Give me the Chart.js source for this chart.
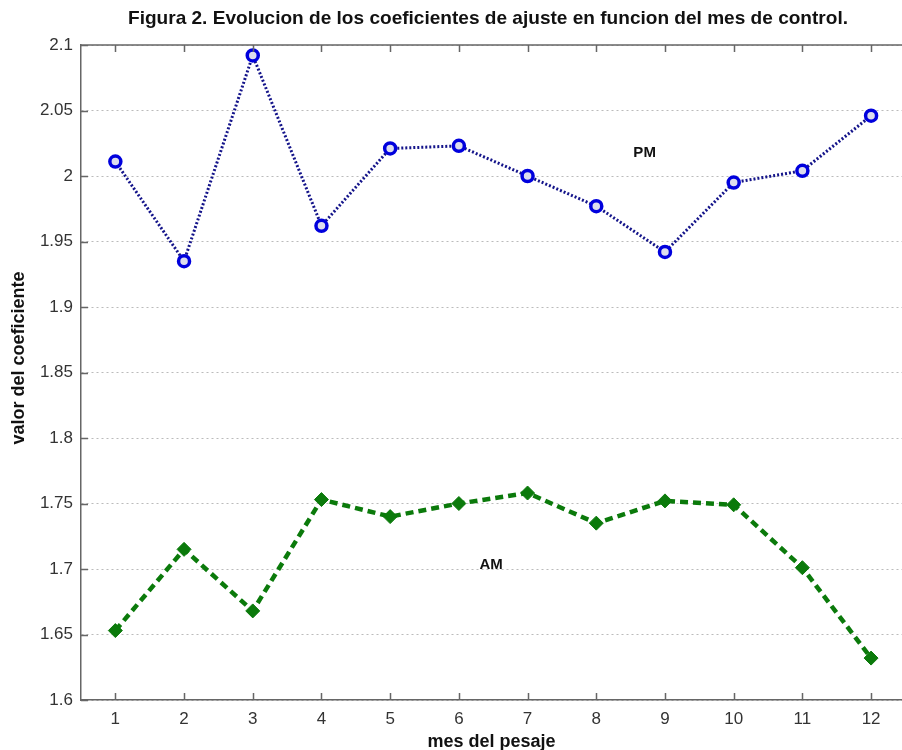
<!DOCTYPE html>
<html>
<head>
<meta charset="utf-8">
<script src="https://cdn.jsdelivr.net/npm/chart.js@4"></script>
<style>
  html, body { margin: 0; padding: 0; background: #fff; overflow: hidden; }
  #wrap { width: 902px; height: 750px; }
</style>
</head>
<body>
<div id="wrap"><canvas id="chart" width="902" height="750"></canvas></div>
<script>
const meses = [1, 2, 3, 4, 5, 6, 7, 8, 9, 10, 11, 12];
const pm = [2.011, 1.935, 2.092, 1.962, 2.021, 2.023, 2.000, 1.977, 1.942, 1.995, 2.004, 2.046];
const am = [1.653, 1.715, 1.668, 1.753, 1.740, 1.750, 1.758, 1.735, 1.752, 1.749, 1.701, 1.632];
const yTicks = [1.6, 1.65, 1.7, 1.75, 1.8, 1.85, 1.9, 1.95, 2, 2.05, 2.1];
const titulo = 'Figura 2. Evolucion de los coeficientes de ajuste en funcion del mes de control.';
const tituloY = 'valor del coeficiente';
const etiquetas = [{ text: 'PM', x: 8.54, y: 2.018 }, { text: 'AM', x: 6.3, y: 1.703 }];

// marks drawn inside the axes, matlab style, plus titles and text labels
const matlabBox = {
  id: 'matlabBox',
  afterDraw(chart) {
    const { ctx, chartArea: a, scales: { x, y } } = chart;
    ctx.save();
    ctx.strokeStyle = '#666';
    ctx.lineWidth = 1.5;
    ctx.beginPath();
    ctx.moveTo(a.left, a.top); ctx.lineTo(a.right, a.top);
    meses.forEach(m => {
      const px = Math.round(x.getPixelForValue(m)) + 0.5;
      ctx.moveTo(px, a.bottom); ctx.lineTo(px, a.bottom - 7);
      ctx.moveTo(px, a.top); ctx.lineTo(px, a.top + 7);
    });
    yTicks.forEach(v => {
      const py = Math.round(y.getPixelForValue(v)) + 0.5;
      ctx.moveTo(a.left, py); ctx.lineTo(a.left + 7, py);
    });
    ctx.stroke();

    ctx.fillStyle = '#111';
    ctx.font = 'bold 15px "Liberation Sans", Arial, sans-serif';
    ctx.textBaseline = 'middle';
    ctx.textAlign = 'left';
    etiquetas.forEach(e => ctx.fillText(e.text, x.getPixelForValue(e.x), y.getPixelForValue(e.y)));

    ctx.save();
    ctx.font = 'bold 18px "Liberation Sans", Arial, sans-serif';
    ctx.translate(19, 358);
    ctx.rotate(-Math.PI / 2);
    ctx.textAlign = 'center';
    ctx.fillText(tituloY, 0, 0);
    ctx.restore();

    ctx.font = 'bold 19px "Liberation Sans", Arial, sans-serif';
    const w = ctx.measureText(titulo).width;
    ctx.translate(488, 19);
    ctx.scale(720 / w, 1);
    ctx.textAlign = 'center';
    ctx.fillText(titulo, 0, 0);
    ctx.restore();
  }
};

new Chart(document.getElementById('chart').getContext('2d'), {
  type: 'line',
  data: {
    datasets: [
      {
        label: 'PM',
        data: meses.map((m, i) => ({ x: m, y: pm[i] })),
        borderColor: '#14148a',
        borderWidth: 3,
        borderDash: [2, 2],
        pointStyle: 'circle',
        pointRadius: 5.5,
        pointBorderWidth: 3.5,
        pointBorderColor: '#0000dd',
        pointBackgroundColor: '#dde',
        tension: 0
      },
      {
        label: 'AM',
        data: meses.map((m, i) => ({ x: m, y: am[i] })),
        borderColor: '#0b7a0b',
        borderWidth: 4.5,
        borderDash: [8, 5],
        pointStyle: 'rectRot',
        pointRadius: 7,
        pointBorderWidth: 1,
        pointBorderColor: '#0b7a0b',
        pointBackgroundColor: '#0b7a0b',
        tension: 0
      }
    ]
  },
  options: {
    responsive: false,
    animation: false,
    layout: { autoPadding: false, padding: { top: 45, right: 0, left: 0, bottom: 0 } },
    plugins: { legend: { display: false }, tooltip: { enabled: false } },
    scales: {
      x: {
        type: 'linear',
        min: 0.5,
        max: 12.45,
        afterBuildTicks: s => { s.ticks = meses.map(v => ({ value: v })); },
        afterFit: s => { s.height = 50; s.paddingRight = 0; s.paddingLeft = 0; },
        grid: { display: false, drawTicks: false },
        border: { display: true, color: '#666', width: 1.5 },
        ticks: { color: '#333', padding: 9, font: { size: 17, family: '"Liberation Sans", Arial, sans-serif' } },
        title: { display: true, text: 'mes del pesaje', color: '#111', padding: { top: 0, bottom: -3 },
          font: { size: 18, weight: 'bold', family: '"Liberation Sans", Arial, sans-serif' } }
      },
      y: {
        min: 1.6,
        max: 2.1,
        afterBuildTicks: s => { s.ticks = yTicks.map(v => ({ value: v })); },
        afterFit: s => { s.width = 81; },
        grid: { color: '#bbb', lineWidth: 1, drawTicks: false },
        border: { display: true, color: '#666', width: 1.5, dash: [2, 3] },
        ticks: { color: '#333', padding: 8, font: { size: 17, family: '"Liberation Sans", Arial, sans-serif' },
          callback: v => String(v) },
        title: { display: false }
      }
    }
  },
  plugins: [matlabBox]
});
</script>
</body>
</html>
